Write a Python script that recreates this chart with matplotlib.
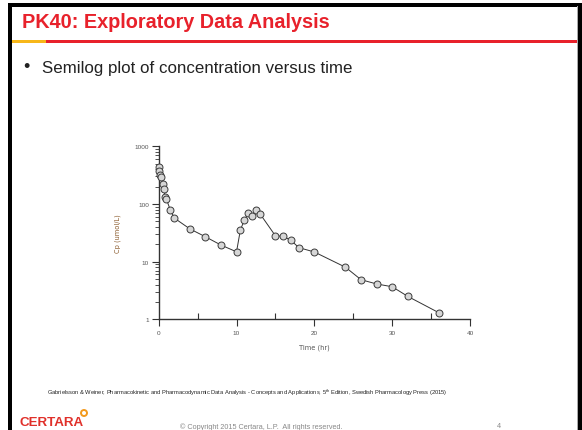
"""
Slide recreation: PK40 semilog plot of plasma concentration versus time.
"""
import matplotlib
matplotlib.use('Agg')
import matplotlib.pyplot as plt
import matplotlib.patches as mpatches
from matplotlib.ticker import LogLocator, NullFormatter, FixedLocator

# ── Data ─────────────────────────────────────────────────────────────────────
time_hr = [0.05, 0.1, 0.17, 0.25, 0.5, 0.67, 0.83, 1.0, 1.5, 2, 4, 6, 8, 10,
           10.5, 11, 11.5, 12, 12.5, 13, 15, 16, 17, 18, 20,
           24, 26, 28, 30, 32, 36]
cp_umol = [430, 376, 318, 297, 221, 180, 130, 120, 78, 57, 37, 27, 19.4, 14.8,
           35.7, 52, 69, 61, 78.5, 68, 28, 27.5, 23.4, 17.5, 14.7,
           8.0, 4.86, 4.1, 3.67, 2.5, 1.3]

x_major = [0, 10, 20, 30, 40]
x_minor = [5, 15, 25, 35]
y_major = [1, 10, 100, 1000]
y_labels = ['1', '10', '100', '1000']

# ── Style ────────────────────────────────────────────────────────────────────
RED    = '#e8212b'
YELLOW = '#f7b719'
DARK   = '#222222'
GREY   = '#555555'
SLIDE_FONT = ['Liberation Sans', 'DejaVu Sans']

plt.rcParams.update({
    'font.family': SLIDE_FONT,
    'mathtext.fontset': 'custom',
    'mathtext.rm': 'Liberation Sans',
})

W, H = 582, 431
fig = plt.figure(figsize=(W / 100, H / 100), dpi=100)
fig.patch.set_facecolor('white')

# overlay axes in pixel coordinates (y down) for slide furniture
deco = fig.add_axes([0, 0, 1, 1])
deco.set_xlim(0, W)
deco.set_ylim(H, 0)
deco.axis('off')

# slide frame
deco.add_patch(mpatches.Rectangle((8, 4), W - 8, 3.5, color='black', lw=0))
deco.add_patch(mpatches.Rectangle((8, 4), 4, H - 4, color='black', lw=0))
deco.add_patch(mpatches.Rectangle((578, 4), 4, H - 4, color='black', lw=0))
deco.add_patch(mpatches.Rectangle((576.5, 7), 1.5, H - 7, color='#aaaaaa', lw=0))

# title + rule
deco.text(22, 22, 'PK40: Exploratory Data Analysis', color=RED,
          fontsize=14.3, fontweight='bold', ha='left', va='center')
deco.add_patch(mpatches.Rectangle((12, 41), 34, 3, color=YELLOW, lw=0))
deco.add_patch(mpatches.Rectangle((46, 41), 531, 3, color=RED, lw=0))

# bullet
deco.text(23, 67, '\u2022', color=DARK, fontsize=13, ha='left', va='center')
deco.text(42, 68, 'Semilog plot of concentration versus time', color=DARK,
          fontsize=12.2, ha='left', va='center')

# reference footnote
deco.text(47, 393,
          'Gabrielsson & Weiner, Pharmacokinetic and Pharmacodynamic Data '
          'Analysis - Concepts and Applications, 5$^{\\rm th}$ Edition, '
          'Swedish Pharmacology Press (2015)',
          color=DARK, fontsize=4.15, ha='left', va='center')

# footer
deco.text(19, 423, 'CERTARA', color='#e0302a', fontsize=9.6,
          fontweight='bold', ha='left', va='center')
deco.add_patch(mpatches.Circle((84, 414), 3.0, fill=False,
                               edgecolor='#f39a1e', lw=1.4))
deco.text(180, 427, '\u00a9 Copyright 2015 Certara, L.P.  All rights reserved.',
          color='#888888', fontsize=5.2, ha='left', va='center')
deco.text(497, 427, '4', color='#888888', fontsize=5.2, ha='left', va='center')

# ── Chart ────────────────────────────────────────────────────────────────────
ax = fig.add_axes([158.7 / W, 1 - 320.3 / H, (470 - 158.7) / W,
                   (320.3 - 147.3) / H])
ax.set_facecolor('none')
ax.plot(time_hr, cp_umol, '-', color='#333333', lw=0.7, zorder=2)
ax.plot(time_hr, cp_umol, 'o', ms=5.0, mfc='#d6d6d6', mec='#3a3a3a',
        mew=0.7, clip_on=False, zorder=3)

ax.set_yscale('log')
ax.set_xlim(0, 40)
ax.set_ylim(1, 1000)

for s in ['top', 'right']:
    ax.spines[s].set_visible(False)
for s in ['left', 'bottom']:
    ax.spines[s].set_color('#333333')
    ax.spines[s].set_linewidth(1.0)

ax.xaxis.set_major_locator(FixedLocator(x_major))
ax.xaxis.set_minor_locator(FixedLocator(x_minor))
ax.set_xticklabels([str(v) for v in x_major])
ax.tick_params(axis='x', which='major', direction='out', length=5,
               width=0.8, color='#333333', labelsize=4.6, labelcolor=GREY, pad=3)
ax.tick_params(axis='x', which='minor', direction='in', length=4,
               width=0.8, color='#333333')

ax.yaxis.set_major_locator(FixedLocator(y_major))
ax.set_yticklabels(y_labels)
ax.yaxis.set_minor_locator(LogLocator(base=10, subs=range(2, 10)))
ax.yaxis.set_minor_formatter(NullFormatter())
ax.tick_params(axis='y', which='major', direction='out', length=5,
               width=0.8, color='#333333', labelsize=4.6, labelcolor=GREY, pad=2)
ax.tick_params(axis='y', which='minor', direction='out', length=3,
               width=0.6, color='#333333')

ax.set_xlabel('Time (hr)', fontsize=4.8, color=GREY, family='DejaVu Sans',
              labelpad=6)
ax.set_ylabel('Cp (umol/L)', fontsize=4.8, color='#8a5a2b',
              family='DejaVu Sans', labelpad=10)

fig.savefig('out.png', dpi=100, facecolor='white')
